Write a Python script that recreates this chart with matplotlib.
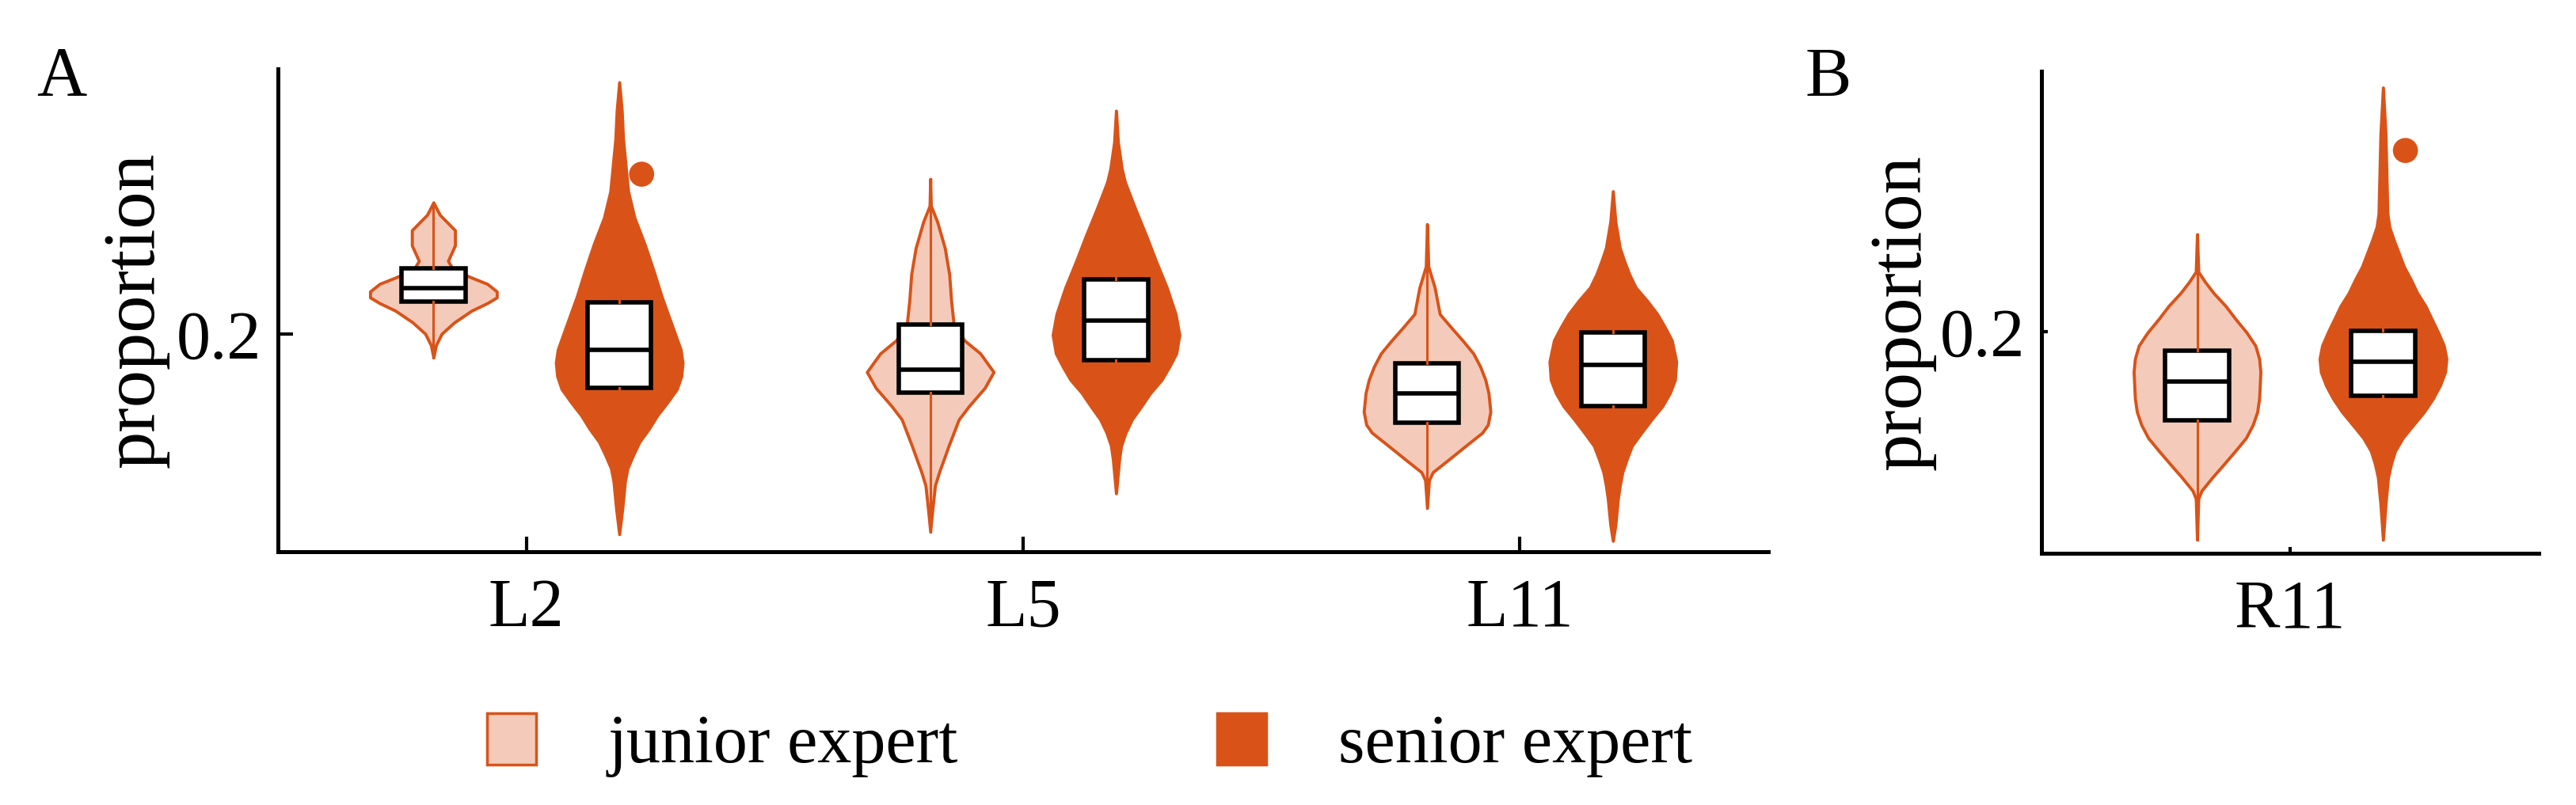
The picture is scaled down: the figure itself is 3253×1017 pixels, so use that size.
import numpy as np
import matplotlib
matplotlib.use("Agg")
import matplotlib.pyplot as plt
from matplotlib.patches import Patch

# categories
regions_a = ["L2", "L5", "L11"]
regions_b = ["R11"]
groups = ["junior expert", "senior expert"]

# violin outlines: levels (proportion) and relative density
jun_L2_y = [0.2554, 0.2502, 0.2437, 0.2373, 0.2308, 0.2276, 0.2243, 0.2211, 0.2179,
            0.2154, 0.2130, 0.2098, 0.2049, 0.2001, 0.1953, 0.1901]
jun_L2_d = [0.0, 0.10, 0.34, 0.34, 0.23, 0.30, 0.55, 0.85, 1.0, 1.0, 0.85, 0.60,
            0.33, 0.13, 0.04, 0.0]
sen_L2_y = [0.3060, 0.2940, 0.2823, 0.2712, 0.2601, 0.2490, 0.2379, 0.2268, 0.2157,
            0.2046, 0.1934, 0.1879, 0.1823, 0.1768, 0.1712, 0.1657, 0.1601, 0.1546,
            0.1490, 0.1434, 0.1379, 0.1268, 0.1157]
sen_L2_d = [0.0, 0.04, 0.06, 0.10, 0.14, 0.24, 0.40, 0.54, 0.67, 0.82, 0.97, 1.0,
            0.98, 0.91, 0.76, 0.60, 0.47, 0.32, 0.22, 0.13, 0.09, 0.05, 0.0]

jun_L5_y = [0.2653, 0.2540, 0.2473, 0.2362, 0.2251, 0.2140, 0.2040, 0.1973, 0.1918,
            0.1840, 0.1773, 0.1696, 0.1640, 0.1529, 0.1418, 0.1362, 0.1251, 0.1168]
jun_L5_d = [0.0, 0.01, 0.11, 0.23, 0.30, 0.33, 0.37, 0.54, 0.79, 1.0, 0.86, 0.61,
            0.45, 0.29, 0.14, 0.075, 0.03, 0.0]
sen_L5_y = [0.2940, 0.2807, 0.2696, 0.2640, 0.2529, 0.2418, 0.2307, 0.2196, 0.2084,
            0.1996, 0.1918, 0.1862, 0.1807, 0.1751, 0.1696, 0.1640, 0.1584, 0.1529,
            0.1473, 0.1329]
sen_L5_d = [0.0, 0.03, 0.09, 0.14, 0.30, 0.47, 0.63, 0.80, 0.94, 1.0, 0.95, 0.84,
            0.72, 0.54, 0.40, 0.25, 0.15, 0.08, 0.05, 0.0]

jun_L11_y = [0.2462, 0.2284, 0.2196, 0.2084, 0.2029, 0.1973, 0.1918, 0.1862, 0.1807,
             0.1751, 0.1673, 0.1618, 0.1584, 0.1529, 0.1473, 0.1418, 0.1384, 0.1268]
jun_L11_d = [0.0, 0.02, 0.12, 0.20, 0.375, 0.56, 0.73, 0.84, 0.92, 0.97, 1.0, 0.96,
             0.87, 0.61, 0.35, 0.09, 0.03, 0.0]
sen_L11_y = [0.2601, 0.2473, 0.2362, 0.2307, 0.2251, 0.2196, 0.2140, 0.2084, 0.2029,
             0.1973, 0.1884, 0.1807, 0.1751, 0.1696, 0.1640, 0.1584, 0.1529, 0.1473,
             0.1418, 0.1362, 0.1307, 0.1196, 0.1129]
sen_L11_d = [0.0, 0.04, 0.11, 0.18, 0.26, 0.36, 0.54, 0.70, 0.82, 0.93, 1.0, 0.98,
             0.90, 0.78, 0.61, 0.45, 0.30, 0.22, 0.15, 0.11, 0.08, 0.04, 0.0]

jun_R11_y = [0.2410, 0.2252, 0.2208, 0.2163, 0.2108, 0.2052, 0.1997, 0.1941, 0.1886,
             0.1830, 0.1719, 0.1663, 0.1608, 0.1552, 0.1497, 0.1441, 0.1386, 0.1330,
             0.1297, 0.1124]
jun_R11_d = [0.0, 0.02, 0.13, 0.26, 0.45, 0.61, 0.78, 0.92, 0.98, 1.0, 0.98, 0.95,
             0.88, 0.77, 0.60, 0.42, 0.24, 0.07, 0.02, 0.0]
sen_R11_y = [0.3028, 0.2830, 0.2608, 0.2497, 0.2441, 0.2386, 0.2330, 0.2274, 0.2219,
             0.2163, 0.2108, 0.2052, 0.1997, 0.1941, 0.1886, 0.1830, 0.1774, 0.1719,
             0.1663, 0.1608, 0.1552, 0.1497, 0.1441, 0.1386, 0.1274, 0.1124]
sen_R11_d = [0.0, 0.04, 0.06, 0.07, 0.10, 0.17, 0.25, 0.33, 0.44, 0.54, 0.67, 0.77,
             0.87, 0.96, 1.0, 0.98, 0.90, 0.79, 0.65, 0.48, 0.31, 0.19, 0.125, 0.08,
             0.04, 0.0]

# box stats (q1, median, q3)
jun_box_a = [(0.2135, 0.2192, 0.2277), (0.1753, 0.1850, 0.2040), (0.1627, 0.1751, 0.1876)]
sen_box_a = [(0.1773, 0.1934, 0.2134), (0.1890, 0.2057, 0.2229), (0.1696, 0.1871, 0.2007)]
jun_box_b = [(0.1628, 0.1791, 0.1919)]
sen_box_b = [(0.1730, 0.1872, 0.2002)]

# outliers
sen_out_a = [[0.2673], [], []]
sen_out_b = [[0.2763]]

jun_prof_a = [(jun_L2_y, jun_L2_d), (jun_L5_y, jun_L5_d), (jun_L11_y, jun_L11_d)]
sen_prof_a = [(sen_L2_y, sen_L2_d), (sen_L5_y, sen_L5_d), (sen_L11_y, sen_L11_d)]
jun_prof_b = [(jun_R11_y, jun_R11_d)]
sen_prof_b = [(sen_R11_y, sen_R11_d)]

ORANGE = "#D95319"
LIGHT = "#F4CBBA"
OFF = 0.187
VW = 0.255
BW = 0.128
FS = 62

plt.rcParams["font.family"] = ["Liberation Serif", "DejaVu Serif"]


def draw_one(ax, pos, prof, box, face, fliers):
    y, d = prof
    q1, med, q3 = box
    st = dict(coords=np.array(y), vals=np.array(d), mean=med, median=med,
              min=min(y), max=max(y))
    parts = ax.violin([st], positions=[pos], widths=VW, showextrema=False)
    body = parts["bodies"][0]
    body.set_alpha(1)
    body.set_facecolor(face)
    body.set_edgecolor(ORANGE)
    body.set_linewidth(2.8)
    body.set_joinstyle("round")
    bs = dict(med=med, q1=q1, q3=q3, whislo=min(y), whishi=max(y), fliers=[])
    ax.bxp([bs], positions=[pos], widths=BW, patch_artist=True, showcaps=False,
           showfliers=False, manage_ticks=False, zorder=3,
           boxprops=dict(facecolor="white", edgecolor="black", linewidth=4),
           medianprops=dict(color="black", linewidth=4),
           whiskerprops=dict(color=ORANGE, linewidth=2.2))
    if fliers:
        ax.scatter([pos + 0.045] * len(fliers), fliers, s=520, color=ORANGE,
                   edgecolor="none", zorder=4)


def panel(ax, names, jprof, sprof, jbox, sbox, sout, ylim, ticklen):
    for i in range(len(names)):
        x = i + 1
        draw_one(ax, x - OFF, jprof[i], jbox[i], LIGHT, [])
        draw_one(ax, x + OFF, sprof[i], sbox[i], ORANGE, sout[i])
    ax.set_xlim(0.5, len(names) + 0.5)
    ax.set_ylim(*ylim)
    ax.set_xticks(range(1, len(names) + 1))
    ax.set_xticklabels(names)
    ax.set_yticks([0.2])
    ax.set_yticklabels(["0.2"])
    for s in ["top", "right"]:
        ax.spines[s].set_visible(False)
    for s in ["left", "bottom"]:
        ax.spines[s].set_linewidth(3.6)
    ax.tick_params(direction="in", length=ticklen, width=3, labelsize=FS)
    ax.tick_params(axis="x", pad=24)
    ax.tick_params(axis="y", pad=15)
    ax.set_ylabel("proportion", fontsize=68)


fig = plt.figure(figsize=(32.53, 10.17), dpi=100)
axA = fig.add_axes([0.1079, 0.3147, 0.5786, 0.5998])
axB = fig.add_axes([0.7925, 0.3127, 0.1930, 0.5988])

panel(axA, regions_a, jun_prof_a, sen_prof_a, jun_box_a, sen_box_a, sen_out_a,
      (0.10833, 0.31167), 14)
panel(axB, regions_b, jun_prof_b, sen_prof_b, jun_box_b, sen_box_b, sen_out_b,
      (0.10667, 0.30967), 6)
axA.yaxis.set_label_coords(-0.0728, 0.5)
axB.yaxis.set_label_coords(-0.212, 0.5)

fig.text(0.0141, 0.882, "A", fontsize=63, va="baseline", ha="left")
fig.text(0.7006, 0.881, "B", fontsize=63, va="baseline", ha="left")

handles = [Patch(facecolor=LIGHT, edgecolor=ORANGE, linewidth=2.5),
           Patch(facecolor=ORANGE, edgecolor=ORANGE, linewidth=2.5)]
fig.legend(handles, groups, loc="center", bbox_to_anchor=(0.423, 0.074), ncol=2,
           frameon=False, fontsize=FS, handlelength=0.72, handleheight=0.78,
           handletextpad=1.05, columnspacing=3.8)

fig.savefig("out.png", dpi=100)
